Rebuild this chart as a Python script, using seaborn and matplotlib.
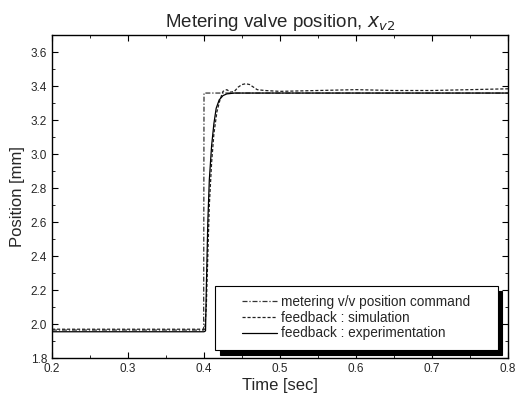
import numpy as np
import pandas as pd
import seaborn as sns
import matplotlib
matplotlib.use("Agg")
import matplotlib.pyplot as plt
from matplotlib.ticker import MultipleLocator

# --- data ---
cmd_t = [0.2, 0.3, 0.3995, 0.4, 0.45, 0.5, 0.6, 0.7, 0.8]
cmd_y = [1.965, 1.965, 1.965, 3.36, 3.36, 3.36, 3.36, 3.36, 3.36]

sim_t = [0.2, 0.3, 0.4, 0.401, 0.403, 0.405, 0.407, 0.41, 0.413, 0.417, 0.421,
         0.425, 0.43, 0.435, 0.44, 0.445, 0.45, 0.455, 0.46, 0.465, 0.47,
         0.48, 0.5, 0.55, 0.6, 0.65, 0.7, 0.75, 0.8]
sim_y = [1.97, 1.97, 1.97, 1.97, 2.10, 2.40, 2.70, 2.95, 3.12, 3.25, 3.32,
         3.37, 3.38, 3.365, 3.37, 3.395, 3.41, 3.415, 3.41, 3.395, 3.38,
         3.375, 3.37, 3.375, 3.38, 3.375, 3.375, 3.38, 3.385]

exp_t = [0.2, 0.3, 0.4, 0.402, 0.403, 0.405, 0.407, 0.41, 0.413, 0.416, 0.42,
         0.425, 0.43, 0.44, 0.5, 0.6, 0.7, 0.8]
exp_y = [1.955, 1.955, 1.955, 1.96, 2.20, 2.60, 2.85, 3.05, 3.18, 3.27, 3.32,
         3.345, 3.355, 3.36, 3.36, 3.36, 3.36, 3.36]

labels = ["metering v/v position command",
          "feedback : simulation",
          "feedback : experimentation"]

sns.set_style("ticks")
plt.rcParams['font.family'] = ['Liberation Sans', 'DejaVu Sans']

fig = plt.figure(figsize=(5.17, 4.01), dpi=100)
ax = fig.add_axes([0.1006, 0.107, 0.882, 0.805])

df_cmd = pd.DataFrame({"t": cmd_t, "y": cmd_y})
df_sim = pd.DataFrame({"t": sim_t, "y": sim_y})
df_exp = pd.DataFrame({"t": exp_t, "y": exp_y})

sns.lineplot(data=df_cmd, x="t", y="y", ax=ax, color="#333333", lw=0.9,
             linestyle=(0, (4, 1.5, 1, 1.5)), label=labels[0], sort=False)
sns.lineplot(data=df_sim, x="t", y="y", ax=ax, color="#222222", lw=0.9,
             linestyle=(0, (2.5, 1.5)), label=labels[1], sort=False)
sns.lineplot(data=df_exp, x="t", y="y", ax=ax, color="black", lw=0.9,
             linestyle="-", label=labels[2], sort=False)

ax.set_xlim(0.2, 0.8)
ax.set_ylim(1.8, 3.7)
ax.xaxis.set_major_locator(MultipleLocator(0.1))
ax.xaxis.set_minor_locator(MultipleLocator(0.05))
ax.yaxis.set_major_locator(MultipleLocator(0.2))
ax.yaxis.set_minor_locator(MultipleLocator(0.1))
ax.tick_params(which="both", direction="in", top=True, right=True,
               labelsize=8.5, color="black")
ax.tick_params(which="major", length=4, width=0.8)
ax.tick_params(which="minor", length=2, width=0.6)
for s in ax.spines.values():
    s.set_visible(True)
    s.set_color("black")
    s.set_linewidth(1.0)

ax.set_xlabel("Time [sec]", fontsize=12, labelpad=2)
ax.set_ylabel("Position [mm]", fontsize=12, labelpad=4)
ax.set_title("Metering valve position, $x_{v2}$", fontsize=13.5, pad=6)

leg = ax.legend(loc="lower left", bbox_to_anchor=(0.357, 0.025, 0.62, 0.2),
                mode="expand", frameon=True, fancybox=False, fontsize=9.8,
                handlelength=2.6, handletextpad=0.3, borderpad=0.7,
                borderaxespad=0.0, labelspacing=0.12,
                shadow={"color": "black", "alpha": 1.0, "ox": 3.5, "oy": -3.5})
leg.get_frame().set_edgecolor("black")
leg.get_frame().set_linewidth(0.8)
# center the entries inside the wide frame like the reference
leg._legend_handle_box.mode = "fixed"

fig.savefig("out.png", dpi=100)
